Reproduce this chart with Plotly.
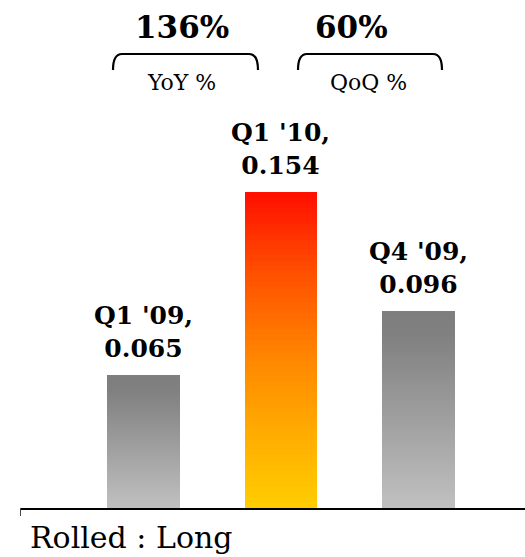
import plotly.graph_objects as go

# Quarterly values
categories = ["Q1 '09", "Q1 '10", "Q4 '09"]
values = [0.065, 0.154, 0.096]
highlight = [False, True, False]

# Growth call-outs above the chart
growth_values = ["136%", "60%"]
growth_labels = ["YoY %", "QoQ %"]

footer = "Rolled : Long"

W, H = 525, 557
ML, MR, MT, MB = 20, 0, 0, 49
PW, PH = W - ML - MR, H - MT - MB

SERIF = "DejaVu Serif"
N_SLICES = 60


def px_x(px):
    return (px - ML) / PW


def px_y(py):
    return (H - MB - py) / PH


def lerp(c0, c1, t):
    return tuple(round(a + (b - a) * t) for a, b in zip(c0, c1))


def ramp(stops, t):
    # stops: list of (pos, rgb) sorted by pos, t in [0, 1] from top to bottom
    for (p0, c0), (p1, c1) in zip(stops, stops[1:]):
        if t <= p1:
            return lerp(c0, c1, (t - p0) / (p1 - p0) if p1 > p0 else 0)
    return stops[-1][1]


GRAY_STOPS = [(0.0, (126, 126, 126)), (0.12, (128, 128, 128)), (1.0, (192, 192, 192))]
HOT_STOPS = [(0.0, (255, 14, 0)), (0.25, (255, 78, 0)), (0.5, (255, 130, 0)),
             (0.75, (255, 170, 0)), (1.0, (255, 205, 0))]

fig = go.Figure()

for i, (cat, v, hot) in enumerate(zip(categories, values, highlight)):
    stops = HOT_STOPS if hot else GRAY_STOPS
    step = v / N_SLICES
    bases = [step * k for k in range(N_SLICES)]
    colors = []
    for k in range(N_SLICES):
        t = 1 - (k + 0.5) / N_SLICES  # 0 at top, 1 at bottom
        r, g, b = ramp(stops, t)
        colors.append(f"rgb({r},{g},{b})")
    fig.add_trace(go.Bar(
        x=[i] * N_SLICES,
        y=[step * 1.002] * N_SLICES,
        base=bases,
        width=0.53,
        marker=dict(color=colors, line=dict(width=0)),
        name=cat,
        showlegend=False,
        hoverinfo="skip",
    ))
    fig.add_annotation(
        x=i, y=v, xref="x", yref="y",
        text=f"<b>{cat},<br>{v:.3f}</b>",
        showarrow=False, xanchor="center", yanchor="bottom", yshift=10,
        font=dict(family=SERIF, size=25, color="black"),
    )

# Growth figures with curly brackets
growth_centers = [181.5, 351.5]
label_centers = [181, 368]
bracket_spans = [(113, 258), (298, 442)]
for gv, gl, gc, lc, (x0, x1) in zip(growth_values, growth_labels, growth_centers,
                                     label_centers, bracket_spans):
    fig.add_annotation(
        x=px_x(gc), y=px_y(27), xref="paper", yref="paper",
        text=f"<b>{gv}</b>", showarrow=False,
        xanchor="center", yanchor="middle",
        font=dict(family=SERIF, size=31, color="black"),
    )
    fig.add_annotation(
        x=px_x(lc), y=px_y(82), xref="paper", yref="paper",
        text=gl, showarrow=False, xanchor="center", yanchor="middle",
        font=dict(family=SERIF, size=22, color="black"),
    )
    yt, yb, r = px_y(54), px_y(70), 9
    path = (f"M {px_x(x0)},{yb} "
            f"Q {px_x(x0)},{yt} {px_x(x0 + r)},{yt} "
            f"L {px_x(x1 - r)},{yt} "
            f"Q {px_x(x1)},{yt} {px_x(x1)},{yb}")
    fig.add_shape(type="path", path=path, xref="paper", yref="paper",
                  line=dict(color="black", width=2.2))

# Small tick at the left end of the baseline
fig.add_shape(type="line", xref="paper", yref="paper",
              x0=0.001, x1=0.001, y0=0, y1=px_y(516),
              line=dict(color="#444", width=1))

fig.add_annotation(
    x=px_x(28), y=px_y(537), xref="paper", yref="paper",
    text=footer, showarrow=False, xanchor="left", yanchor="middle",
    font=dict(family=SERIF, size=30, color="black"),
)

fig.update_layout(
    width=W, height=H,
    margin=dict(l=ML, r=MR, t=MT, b=MB, pad=0),
    paper_bgcolor="white", plot_bgcolor="white",
    barmode="overlay", bargap=0,
    xaxis=dict(range=[-0.898, 2.775], showgrid=False, zeroline=False,
               showticklabels=False, ticks="", showline=True,
               linecolor="black", linewidth=2, fixedrange=True),
    yaxis=dict(range=[0, PH / 2050], showgrid=False, zeroline=False,
               showticklabels=False, ticks="", showline=False, fixedrange=True),
)

fig.write_html("out.html")
